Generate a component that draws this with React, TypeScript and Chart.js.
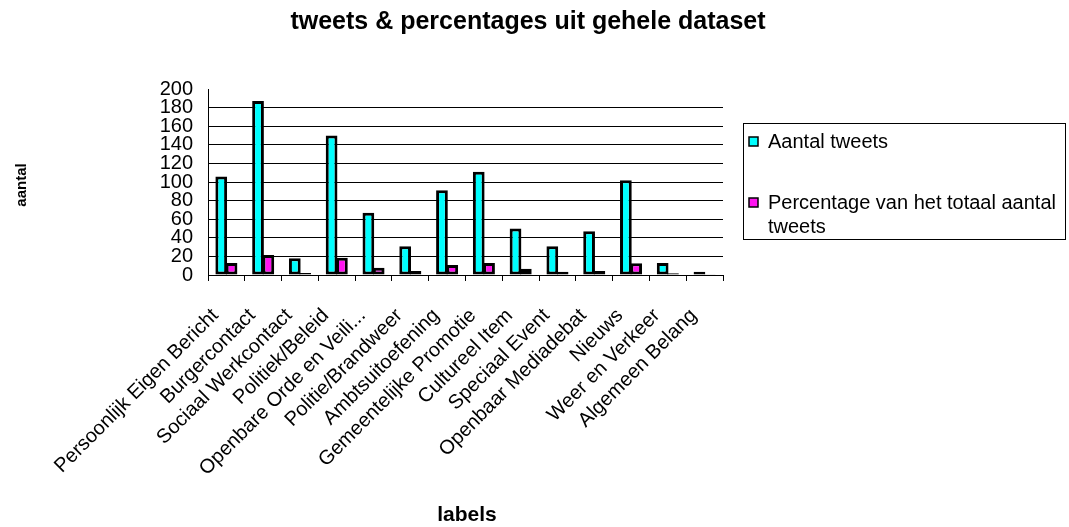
import React, { useEffect, useRef } from 'react';
import { Chart, registerables } from 'chart.js';

Chart.register(...registerables);

const chartTitle = 'tweets & percentages uit gehele dataset';
const xAxisTitle = 'labels';
const yAxisTitle = 'aantal';

const categories = [
  'Persoonlijk Eigen Bericht',
  'Burgercontact',
  'Sociaal Werkcontact',
  'Politiek/Beleid',
  'Openbare Orde en Veili...',
  'Politie/Brandweer',
  'Ambtsuitoefening',
  'Gemeentelijke Promotie',
  'Cultureel Item',
  'Speciaal Event',
  'Openbaar Mediadebat',
  'Nieuws',
  'Weer en Verkeer',
  'Algemeen Belang',
];

const seriesNames = ['Aantal tweets', 'Percentage van het totaal aantal tweets'];

const tweetCounts = [106, 187, 18, 150, 67, 31, 91, 111, 50, 31, 47, 102, 13, 3.5];
const percentages = [12.8, 21.6, 2.2, 18.6, 7.8, 4.4, 10.8, 12.8, 6.6, 3.4, 4.4, 12.6, 1.8, 0.3];

const yMin = 0;
const yMax = 200;
const yStep = 20;

const seriesColors = ['#00ffff', '#ff14f0'];

const FONT = "'Liberation Sans', Arial, sans-serif";

function wrapText(ctx: CanvasRenderingContext2D, text: string, maxWidth: number): string[] {
  const words = text.split(' ');
  const lines: string[] = [];
  let line = '';
  for (const w of words) {
    const test = line ? line + ' ' + w : w;
    if (ctx.measureText(test).width > maxWidth && line) {
      lines.push(line);
      line = w;
    } else {
      line = test;
    }
  }
  if (line) lines.push(line);
  return lines;
}

const decorPlugin = {
  id: 'decor',
  afterDraw(chart: any) {
    const ctx: CanvasRenderingContext2D = chart.ctx;
    ctx.save();
    ctx.fillStyle = '#000';
    // title
    ctx.font = `bold 25px ${FONT}`;
    ctx.textAlign = 'center';
    ctx.textBaseline = 'alphabetic';
    ctx.fillText(chartTitle, 528, 29);
    // x axis title
    ctx.font = `bold 21px ${FONT}`;
    ctx.fillText(xAxisTitle, 467, 521);
    // y axis title
    ctx.save();
    ctx.translate(26, 185);
    ctx.rotate(-Math.PI / 2);
    ctx.font = `bold 15px ${FONT}`;
    ctx.fillText(yAxisTitle, 0, 0);
    ctx.restore();

    // legend
    ctx.strokeStyle = '#000';
    ctx.lineWidth = 1;
    ctx.strokeRect(743.5, 123.5, 322, 116);
    ctx.font = `20px ${FONT}`;
    ctx.textAlign = 'left';
    const baselines = [148, 209];
    seriesNames.forEach((name, i) => {
      const by = baselines[i];
      ctx.fillStyle = seriesColors[i];
      ctx.fillRect(749, by - 11, 9, 9);
      ctx.strokeStyle = '#000';
      ctx.lineWidth = 1.5;
      ctx.strokeRect(749, by - 11, 9, 9);
      ctx.fillStyle = '#000';
      const lines = wrapText(ctx, name, 295);
      lines.forEach((ln, j) => ctx.fillText(ln, 768, by + j * 24));
    });
    ctx.restore();
  },
};

export default function App() {
  const canvasRef = useRef<HTMLCanvasElement | null>(null);

  useEffect(() => {
    document.body.style.margin = '0';
    const canvas = canvasRef.current;
    if (!canvas) return;
    const barStyle = {
      borderColor: '#000',
      borderWidth: 3,
      borderSkipped: false,
      categoryPercentage: 0.56,
      barPercentage: 1.14,
    };
    const chart = new Chart(canvas, {
      type: 'bar',
      data: {
        labels: categories,
        datasets: [
          { label: seriesNames[0], data: tweetCounts, backgroundColor: seriesColors[0], ...barStyle },
          { label: seriesNames[1], data: percentages, backgroundColor: seriesColors[1], ...barStyle },
        ],
      },
      options: {
        animation: false,
        responsive: false,
        devicePixelRatio: 1,
        layout: { padding: { top: 89, right: 346, bottom: 0, left: 0 } },
        plugins: {
          legend: { display: false },
          title: { display: false },
          tooltip: { enabled: false },
        },
        scales: {
          x: {
            grid: {
              offset: true,
              drawOnChartArea: false,
              drawTicks: true,
              tickLength: 6,
              color: '#000',
              lineWidth: 1,
            },
            border: { color: '#000', width: 1 },
            ticks: {
              autoSkip: false,
              maxRotation: 45,
              minRotation: 45,
              color: '#000',
              font: { family: FONT, size: 20 },
              padding: 23,
              labelOffset: -11,
            },
            afterFit: (s: any) => {
              s.height = 252;
            },
          },
          y: {
            min: yMin,
            max: yMax,
            ticks: {
              stepSize: yStep,
              autoSkip: false,
              color: '#000',
              font: { family: FONT, size: 20 },
              padding: 15,
            },
            grid: {
              drawTicks: false,
              lineWidth: 1,
              color: (c: any) =>
                c.tick && (c.tick.value === yMax || c.tick.value === yMin) ? 'rgba(0,0,0,0)' : '#000',
            },
            border: { color: '#000', width: 1 },
            afterFit: (s: any) => {
              s.width = 208;
            },
          },
        },
      },
      plugins: [decorPlugin],
    });
    return () => chart.destroy();
  }, []);

  return (
    <div style={{ width: 1069, height: 527, position: 'relative', background: '#fff' }}>
      <canvas ref={canvasRef} width={1069} height={527} style={{ display: 'block' }} />
    </div>
  );
}
